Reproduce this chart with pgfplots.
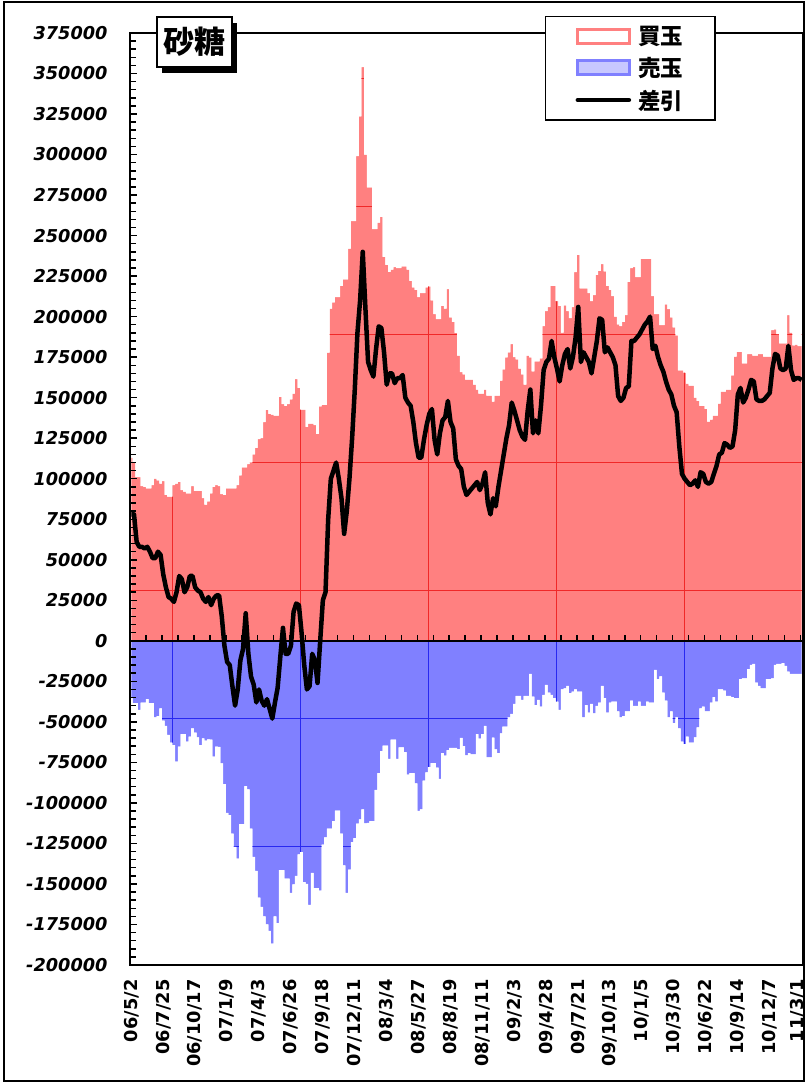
\documentclass[border=0pt]{standalone}
\usepackage{pgfplots}
\pgfplotsset{compat=1.18}
\usepackage{pgfplotstable}
\usepackage{fontspec}
\newfontfamily\labfont{DejaVu Sans}
\newfontfamily\cjk{Noto Sans CJK JP}
\definecolor{buyc}{RGB}{255,128,128}
\definecolor{sellc}{RGB}{128,128,255}
\definecolor{gridr}{RGB}{240,40,40}
\definecolor{gridb}{RGB}{40,40,240}
\definecolor{sellleg}{RGB}{200,200,255}

\pgfplotstableread{
w buy sell diff
0 113000 -35400 78000
1 110000 -38500 78000
2 101000 -38500 61000
3 101000 -42600 58000
4 95500 -38100 58000
5 95000 -38100 57000
6 94000 -36000 58000
7 94000 -38500 55000
8 96000 -38500 51000
9 100000 -47200 51000
10 99000 -46400 55000
11 97000 -41600 53000
12 98500 -49200 41000
13 90000 -52500 33000
14 89000 -58100 27000
15 89000 -62800 26000
16 96000 -64300 24000
17 97000 -74600 30000
18 98000 -65300 40000
19 93000 -57500 38000
20 92000 -57500 30000
21 91000 -62200 33000
22 91000 -59100 40000
23 95500 -54000 40000
24 92500 -56700 33000
25 92500 -59500 31000
26 92500 -64300 30000
27 88000 -60200 26000
28 84000 -61600 24000
29 86000 -60800 27000
30 91000 -61000 22000
31 95000 -71500 26000
32 96000 -65300 28000
33 95500 -65500 28000
34 90500 -75600 15000
35 90000 -88400 -3000
36 94000 -106100 -13000
37 94000 -107500 -15000
38 94000 -118900 -28000
39 94000 -127100 -40000
40 96000 -134300 -30000
41 102000 -113100 -12000
42 107000 -113100 -5000
43 107000 -89600 17000
44 109000 -91700 -8000
45 110000 -115800 -22000
46 115000 -133300 -27000
47 119000 -141900 -38000
48 124500 -158400 -30000
49 125000 -164200 -37000
50 135000 -170000 -40000
51 142500 -174900 -36000
52 140000 -179000 -42000
53 139500 -186800 -48000
54 139000 -170000 -38000
55 139000 -174100 -29000
56 150500 -141500 -10000
57 146000 -141500 8000
58 145000 -146700 -8000
59 146000 -146700 -8000
60 149000 -155500 -3000
61 152500 -150200 18000
62 161500 -145000 23000
63 156000 -131700 22000
64 142600 -130300 5000
65 142600 -148900 -15000
66 132000 -150000 -30000
67 134000 -162900 -28000
68 134000 -143200 -8000
69 133000 -152500 -12000
70 127700 -152500 -26000
71 144600 -154100 0
72 145600 -125800 25000
73 145600 -121200 30000
74 177800 -115800 75000
75 205000 -115800 100000
76 208800 -111300 105000
77 212000 -104700 110000
78 212000 -104700 100000
79 219000 -118900 88000
80 223000 -138500 66000
81 223000 -155500 80000
82 242000 -141200 100000
83 259000 -124200 125000
84 259000 -121700 155000
85 299000 -112800 190000
86 323600 -110100 210000
87 354000 -104000 240000
88 300000 -112700 205000
89 279700 -112300 172000
90 279700 -111300 167000
91 254000 -111300 163000
92 254000 -92000 180000
93 258000 -81700 194000
94 261600 -68000 193000
95 236800 -64600 178000
96 232000 -64600 158000
97 227600 -72800 165000
98 229000 -61000 165000
99 230600 -61000 159000
100 230000 -72800 162000
101 230000 -65800 162000
102 231000 -65800 164000
103 231000 -68600 150000
104 229000 -82500 147000
105 222000 -81700 145000
106 218000 -81700 135000
107 216500 -87900 122000
108 212000 -104900 113000
109 214500 -104000 113000
110 214500 -86300 124000
111 218000 -81100 133000
112 218700 -77900 140000
113 210000 -75400 143000
114 201600 -75400 124000
115 198400 -78300 115000
116 198400 -85200 128000
117 206600 -69300 136000
118 205000 -70900 138000
119 217000 -67400 148000
120 199600 -66100 135000
121 196700 -66100 131000
122 190000 -66100 112000
123 176000 -66800 108000
124 165700 -59900 106000
125 164400 -65000 95000
126 161200 -70700 90000
127 161200 -69300 92000
128 161200 -70100 94000
129 158000 -70100 96000
130 155000 -57500 98000
131 152500 -60400 93000
132 152500 -57500 97000
133 155000 -52500 104000
134 151300 -71900 85000
135 151300 -71900 78000
136 147600 -59700 88000
137 151300 -67000 83000
138 151300 -69300 95000
139 160500 -57100 105000
140 167400 -52900 115000
141 174800 -52900 125000
142 178000 -47200 133000
143 183000 -45100 147000
144 175000 -38900 142000
145 173600 -34000 136000
146 168000 -34000 130000
147 164400 -36500 126000
148 158000 -34000 124000
149 176000 -34000 142000
150 174800 -20400 155000
151 166200 -34400 128000
152 172400 -39600 136000
153 172400 -36500 128000
154 174300 -40600 145000
155 194200 -33400 167000
156 203400 -27200 172000
157 205800 -31900 174000
158 219000 -33400 185000
159 219000 -35400 175000
160 209600 -37500 168000
161 206600 -42600 160000
162 190200 -30000 170000
163 207000 -29300 177000
164 203400 -27800 180000
165 199100 -32300 168000
166 205800 -31300 175000
167 227400 -29900 187000
168 238100 -31300 206000
169 217500 -31300 172000
170 217500 -47200 178000
171 217500 -39600 175000
172 214500 -44300 172000
173 209600 -38900 165000
174 213300 -44700 175000
175 225700 -40200 185000
176 228200 -38100 199000
177 232400 -27800 198000
178 228000 -35400 178000
179 219000 -44300 181000
180 216500 -38100 178000
181 212600 -37500 175000
182 200000 -37500 170000
183 195200 -43600 151000
184 194200 -47200 148000
185 196700 -46400 150000
186 200900 -43600 156000
187 221500 -43600 157000
188 230000 -36900 185000
189 230600 -40200 185000
190 224400 -40200 187000
191 224400 -37500 189000
192 235600 -40200 192000
193 235600 -40200 195000
194 235600 -37500 197000
195 235600 -38100 200000
196 212600 -38100 180000
197 201600 -18000 182000
198 201600 -23700 175000
199 194700 -22000 170000
200 194700 -31900 166000
201 207600 -36900 160000
202 204600 -47200 155000
203 199600 -43600 152000
204 193400 -50800 145000
205 188500 -47200 141000
206 166900 -54000 120000
207 166900 -62200 103000
208 165400 -63700 100000
209 158700 -59100 98000
210 157500 -62800 96000
211 157500 -62800 97000
212 150000 -59500 99000
213 148100 -53400 95000
214 145000 -41600 104000
215 145000 -40600 103000
216 143100 -43600 98000
217 135200 -43600 97000
218 136400 -38100 98000
219 138900 -34800 103000
220 138900 -37500 108000
221 146300 -29900 115000
222 153800 -29900 116000
223 153800 -30700 122000
224 155000 -34000 121000
225 155000 -34000 119000
226 163700 -34800 120000
227 175300 -35400 130000
228 178300 -35400 152000
229 178300 -23700 156000
230 171100 -23100 147000
231 171100 -23100 150000
232 176800 -17500 155000
233 176800 -14800 161000
234 176000 -14200 160000
235 176000 -25800 149000
236 176800 -27800 148000
237 176800 -29300 148000
238 175300 -29300 149000
239 175300 -23700 151000
240 175300 -23700 153000
241 191700 -23100 168000
242 192200 -14800 177000
243 189200 -14200 176000
244 183500 -14200 168000
245 183500 -13800 167000
246 183500 -15500 168000
247 200900 -19000 182000
248 190200 -20400 167000
249 182300 -20400 161000
250 182800 -20400 162000
251 181800 -20400 162000
252 181800 -20400 161000
}\data

\begin{document}
\begin{tikzpicture}
\begin{axis}[
  at={(130pt,118pt)}, anchor=south west,
  scale only axis, width=673pt, height=932pt,
  xmin=-0.5, xmax=252.5, ymin=-200000, ymax=375000,
  axis on top,
  axis line style={line width=2.2pt},
  xtick={0,12,24,36,48,60,72,84,96,108,120,132,144,156,168,180,192,204,216,228,240,252},
  xticklabels={06/5/2,06/7/25,06/10/17,07/1/9,07/4/3,07/6/26,07/9/18,07/12/11,08/3/4,08/5/27,08/8/19,08/11/11,09/2/3,09/4/28,09/7/21,09/10/13,10/1/5,10/3/30,10/6/22,10/9/14,10/12/7,\raisebox{10pt}{11/3/1}},
  x tick style={draw=none},
  xticklabel style={rotate=90, anchor=east, font=\labfont\bfseries\fontsize{17.8}{17.8}\selectfont, xshift=-11pt},
  ytick={-200000,-175000,-150000,-125000,-100000,-75000,-50000,-25000,0,25000,50000,75000,100000,125000,150000,175000,200000,225000,250000,275000,300000,325000,350000,375000},
  minor y tick num=4,
  ytick pos=left, tick align=inside,
  major tick length=7pt, minor tick length=6pt,
  y tick style={line width=1.5pt, black},
  scaled y ticks=false,
  yticklabel style={font=\labfont\bfseries\itshape\fontsize{17.7}{17.7}\selectfont, xshift=-19pt},
  /pgf/number format/assume math mode=true,
  /pgf/number format/fixed,
  /pgf/number format/1000 sep={},
  legend style={at={(0.6166,1.0182)}, anchor=north west,
    draw=black, line width=1.3pt, fill=white,
    font=\cjk\bfseries\fontsize{22.5}{22.5}\selectfont,
    inner xsep=30pt, inner ysep=7.5pt, row sep=7.5pt, column sep=5pt,
    nodes={inner sep=2pt}},
  legend cell align=left,
]
% bars (area of weekly bars)
\addplot[const plot mark mid, fill=buyc, draw=none, forget plot] table[x=w,y=buy]{\data} \closedcycle;
\addplot[const plot mark mid, fill=sellc, draw=none, forget plot] table[x=w,y=sell]{\data} \closedcycle;
% grid pattern seen through the bars
\pgfplotsinvokeforeach{15.5,63.6,111.7,159.8,207.9}{
  \draw[gridr, line width=0.8pt] (axis cs:#1,0) -- (axis cs:#1,375000);
  \draw[gridb, line width=0.8pt] (axis cs:#1,0) -- (axis cs:#1,-200000);
}
\pgfplotsinvokeforeach{347000,268300,189300,110300,31400}{
  \draw[gridr, line width=0.8pt] (axis cs:0,#1) -- (axis cs:252,#1);
}
\pgfplotsinvokeforeach{-47600,-126600}{
  \draw[gridb, line width=0.8pt] (axis cs:0,#1) -- (axis cs:252,#1);
}
% white masks above / below bars
\addplot[const plot mark mid, fill=white, draw=none, forget plot] table[x=w,y=buy]{\data} -- (axis cs:252.5,375000) -- (axis cs:-0.5,375000) -- cycle;
\addplot[const plot mark mid, fill=white, draw=none, forget plot] table[x=w,y=sell]{\data} -- (axis cs:252.5,-200000) -- (axis cs:-0.5,-200000) -- cycle;
% zero line with ticks
\draw[black, line width=2.6pt] (axis cs:-0.5,0) -- (axis cs:252.5,0);
\pgfplotsinvokeforeach{5.5,11.5,...,251.5}{\draw[black, line width=1.5pt] (axis cs:#1,0) -- ++(0pt,6pt);}
% net line
\addplot[black, line width=4.5pt, line join=round, forget plot] table[x=w,y=diff]{\data};
% legend
\addlegendimage{legend image code/.code={\draw[draw=buyc, line width=3pt, fill=white] (1.5pt,-7pt) rectangle (53.5pt,7pt);}}
\addlegendentry{買玉}
\addlegendimage{legend image code/.code={\draw[draw=sellc, line width=3pt, fill=sellleg] (1.5pt,-7pt) rectangle (53.5pt,7pt);}}
\addlegendentry{売玉}
\addlegendimage{legend image code/.code={\draw[black, line width=4.5pt, line cap=round] (2pt,0pt) -- (53pt,0pt);}}
\addlegendentry{差引}
\end{axis}
% title box with shadow
\fill[black] (162pt,1010pt) rectangle (237pt,1060pt);
\draw[line width=1.5pt, fill=white] (157pt,1016pt) rectangle (232pt,1066pt);
\node[font=\cjk\bfseries\fontsize{31}{31}\selectfont] at (194.5pt,1041pt) {砂糖};
% outer frame
\draw[line width=1.5pt] (4pt,2pt) rectangle (804pt,1081pt);
\pgfresetboundingbox
\useasboundingbox (0pt,0pt) rectangle (806pt,1083pt);
\end{tikzpicture}
\end{document}
